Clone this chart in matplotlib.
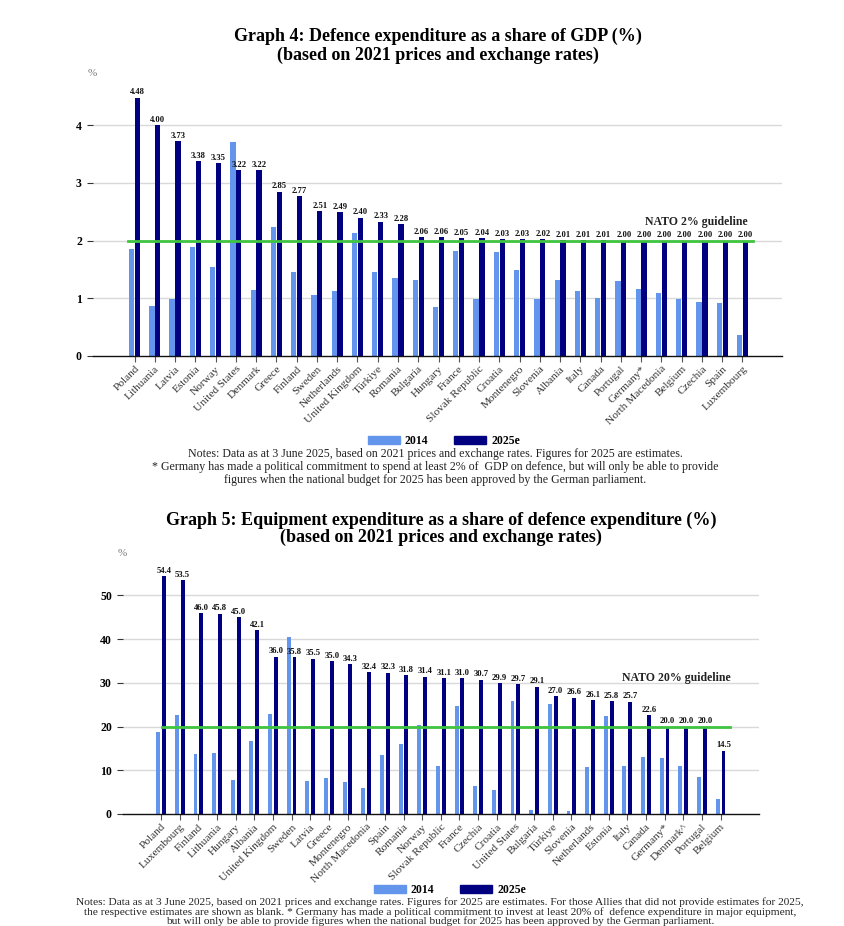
import matplotlib
matplotlib.use("Agg")
import matplotlib.pyplot as plt
import numpy as np
from matplotlib.patches import Patch

plt.rcParams['font.family'] = ['Liberation Serif', 'DejaVu Serif']

# ---------------- Data: Graph 4 ----------------
g4_countries = ["Poland", "Lithuania", "Latvia", "Estonia", "Norway", "United States",
                "Denmark", "Greece", "Finland", "Sweden", "Netherlands", "United Kingdom",
                "Türkiye", "Romania", "Bulgaria", "Hungary", "France", "Slovak Republic",
                "Croatia", "Montenegro", "Slovenia", "Albania", "Italy", "Canada",
                "Portugal", "Germany*", "North Macedonia", "Belgium", "Czechia", "Spain",
                "Luxembourg"]
g4_2014 = [1.85, 0.87, 0.98, 1.89, 1.54, 3.71, 1.15, 2.24, 1.46, 1.06, 1.12, 2.14,
           1.45, 1.36, 1.31, 0.85, 1.82, 0.98, 1.80, 1.49, 0.98, 1.32, 1.13, 1.01,
           1.30, 1.16, 1.09, 0.98, 0.94, 0.92, 0.37]
g4_2025 = [4.48, 4.00, 3.73, 3.38, 3.35, 3.22, 3.22, 2.85, 2.77, 2.51, 2.49, 2.40,
           2.33, 2.28, 2.06, 2.06, 2.05, 2.04, 2.03, 2.03, 2.02, 2.01, 2.01, 2.01,
           2.00, 2.00, 2.00, 2.00, 2.00, 2.00, 2.00]
g4_guideline = 2.0
g4_yticks = [0, 1, 2, 3, 4]

# ---------------- Data: Graph 5 ----------------
g5_countries = ["Poland", "Luxembourg", "Finland", "Lithuania", "Hungary", "Albania",
                "United Kingdom", "Sweden", "Latvia", "Greece", "Montenegro",
                "North Macedonia", "Spain", "Romania", "Norway", "Slovak Republic",
                "France", "Czechia", "Croatia", "United States", "Bulgaria", "Türkiye",
                "Slovenia", "Netherlands", "Estonia", "Italy", "Canada", "Germany*",
                "Denmark^", "Portugal", "Belgium"]
g5_2014 = [18.75, 22.7, 13.8, 14.0, 7.85, 16.8, 22.9, 40.5, 7.6, 8.3, 7.4, 6.0,
           13.6, 15.9, 20.4, 11.05, 24.8, 6.5, 5.6, 25.9, 1.0, 25.2, 0.7, 10.7,
           22.3, 11.05, 13.0, 12.8, 11.05, 8.5, 3.5]
g5_2025 = [54.4, 53.5, 46.0, 45.8, 45.0, 42.1, 36.0, 35.8, 35.5, 35.0, 34.3, 32.4,
           32.3, 31.8, 31.4, 31.1, 31.0, 30.7, 29.9, 29.7, 29.1, 27.0, 26.6, 26.1,
           25.8, 25.7, 22.6, 20.0, 20.0, 20.0, 14.5]
g5_guideline = 20.0
g5_yticks = [0, 10, 20, 30, 40, 50]

series_labels = ["2014", "2025e"]

LIGHT = "#6495ED"
DARK = "#000080"
GREEN = "#3fc43f"
GRID = "#d9d9d9"

W, H = 844, 926
fig = plt.figure(figsize=(W / 100, H / 100), dpi=100)


def fx(px):
    return px / W


def fy(py):
    return 1 - py / H


def draw(ax, countries, v14, v25, yticks, ylim, xlim, bw, off, guideline,
         gl_x, gl_text, gl_text_xy, fmt, label_pad):
    x = np.arange(len(countries))
    ax.set_xlim(*xlim)
    ax.set_ylim(*ylim)
    for t in yticks[1:]:
        ax.axhline(t, color=GRID, lw=1.0, zorder=0)
    ax.bar(x - off, v14, width=bw, color=LIGHT, zorder=2)
    ax.bar(x + off, v25, width=bw, color=DARK, zorder=2)
    ax.plot(gl_x, [guideline, guideline], color=GREEN, lw=2.0, zorder=3)
    for xi, v in zip(x, v25):
        ax.text(xi + off, v + label_pad, fmt.format(v), ha='center', va='bottom',
                fontsize=6.2, fontweight='bold', color='#111111', zorder=4)
    ax.text(gl_text_xy[0], gl_text_xy[1], gl_text, ha='right', va='bottom',
            fontsize=8.5, fontweight='bold', color='#222222')
    for s in ['top', 'right', 'left']:
        ax.spines[s].set_visible(False)
    ax.spines['bottom'].set_color('#111111')
    ax.spines['bottom'].set_linewidth(1.0)
    ax.set_yticks(yticks)
    ax.set_yticklabels([str(t) for t in yticks], fontweight='bold', fontsize=8.5)
    ax.tick_params(axis='y', length=4, width=0.8, color='#333333', pad=4)
    ax.set_xticks(x)
    ax.set_xticklabels(countries, rotation=45, ha='right', rotation_mode='anchor',
                       fontsize=8.2, color='#333333')
    ax.tick_params(axis='x', length=4, width=0.8, color='#555555', pad=2)


# ---------------- Graph 4 ----------------
ax1 = fig.add_axes([fx(93), fy(356), fx(782) - fx(93), (356 - 73.3) / H])
draw(ax1, g4_countries, g4_2014, g4_2025, g4_yticks, (0, 4.9), (-2.05, 31.95),
     0.26, 0.145, g4_guideline, [-0.3, 30.5], "NATO 2% guideline", (30.25, 2.22),
     "{:.2f}", 0.02)

fig.text(fx(438), fy(36), "Graph 4: Defence expenditure as a share of GDP (%)",
         ha='center', va='center', fontsize=13, fontweight='bold')
fig.text(fx(438), fy(55), "(based on 2021 prices and exchange rates)",
         ha='center', va='center', fontsize=13, fontweight='bold')
fig.text(fx(92), fy(73), "%", ha='center', va='center', fontsize=8, color='#777777')

handles = [Patch(color=LIGHT), Patch(color=DARK)]
fig.legend(handles, series_labels, loc='center', bbox_to_anchor=(fx(444), fy(441)),
           ncol=2, frameon=False, prop={'weight': 'bold', 'size': 8.5},
           handlelength=2.7, handleheight=0.75, columnspacing=2.2, handletextpad=0.4)

notes4 = ("Notes: Data as at 3 June 2025, based on 2021 prices and exchange rates. Figures for 2025 are estimates.\n"
          "* Germany has made a political commitment to spend at least 2% of  GDP on defence, but will only be able to provide\n"
          "figures when the national budget for 2025 has been approved by the German parliament.")
fig.text(fx(435), fy(467), notes4, ha='center', va='center', fontsize=8.6,
         linespacing=1.12, color='#222222')

# ---------------- Graph 5 ----------------
ax2 = fig.add_axes([fx(123), fy(814), fx(759) - fx(123), (814 - 551.6) / H])
draw(ax2, g5_countries, g5_2014, g5_2025, g5_yticks, (0, 60), (-2.04, 32.06),
     0.21, 0.155, g5_guideline, [0.05, 30.5], "NATO 20% guideline", (30.55, 29.8),
     "{:.1f}", 0.3)

fig.text(fx(441), fy(520), "Graph 5: Equipment expenditure as a share of defence expenditure (%)",
         ha='center', va='center', fontsize=13, fontweight='bold')
fig.text(fx(441), fy(537), "(based on 2021 prices and exchange rates)",
         ha='center', va='center', fontsize=13, fontweight='bold')
fig.text(fx(122), fy(553), "%", ha='center', va='center', fontsize=8, color='#777777')

fig.legend(handles, series_labels, loc='center', bbox_to_anchor=(fx(450), fy(890)),
           ncol=2, frameon=False, prop={'weight': 'bold', 'size': 8.5},
           handlelength=2.7, handleheight=0.75, columnspacing=2.2, handletextpad=0.4)

notes5 = ("Notes: Data as at 3 June 2025, based on 2021 prices and exchange rates. Figures for 2025 are estimates. For those Allies that did not provide estimates for 2025,\n"
          "the respective estimates are shown as blank. * Germany has made a political commitment to invest at least 20% of  defence expenditure in major equipment,\n"
          "but will only be able to provide figures when the national budget for 2025 has been approved by the German parliament.")
fig.text(fx(440), fy(897), notes5, ha='center', va='top', fontsize=8.2,
         linespacing=1.02, color='#222222')

fig.savefig("out.png", dpi=100)
